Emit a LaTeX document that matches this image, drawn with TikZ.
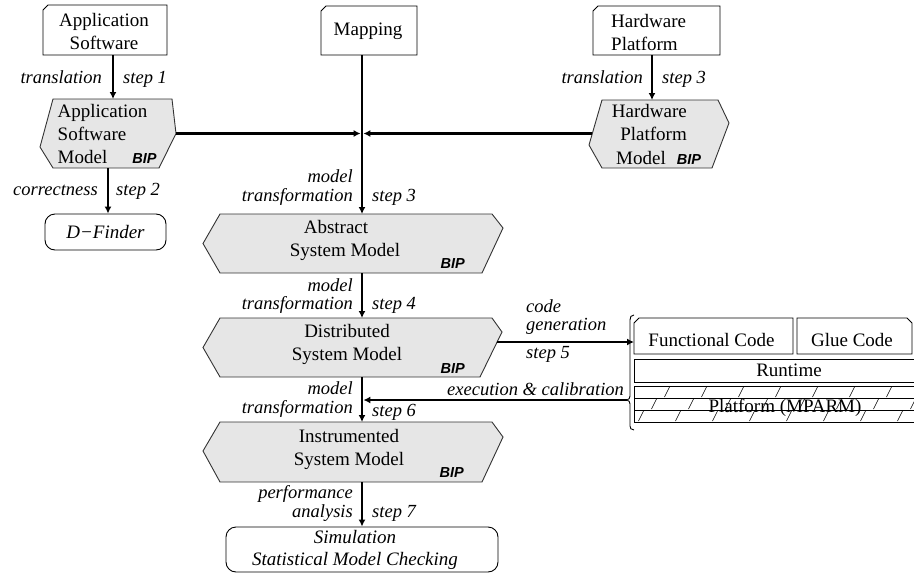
\documentclass[tikz,border=0pt]{standalone}
\usepackage{fontspec}
\setmainfont{Liberation Serif}
\newfontfamily\sansf{Liberation Sans}
\usetikzlibrary{arrows.meta,calc}
\definecolor{hexgray}{RGB}{230,230,230}
\newcommand{\bipmark}{{\fontsize{14.5}{16}\selectfont\sansf\bfseries\itshape BIP}}
\tikzset{
  txt/.style={font=\fontsize{19}{23}\selectfont, inner sep=0pt},
  lab/.style={font=\fontsize{18.5}{22}\selectfont\itshape, inner sep=0pt},
  bipst/.style={font=\fontsize{14.5}{16}\selectfont\sansf\bfseries\itshape, inner sep=0pt},
  area/.style={rectangle, inner sep=0pt, outer sep=0pt, draw=none},
  hexfill/.style={fill=hexgray, draw=black!80, line width=0.9pt, line join=miter},
  boxline/.style={draw=black, line width=0.9pt},
  roundbox/.style={rectangle, draw=black, line width=0.9pt, rounded corners=10pt, inner sep=0pt},
  plainbox/.style={rectangle, draw=black, line width=0.9pt, inner sep=0pt},
  arr/.style={line width=2.8pt, -{Latex[length=7pt,width=7pt]}},
  hatch/.style={line width=0.6pt},
}
\begin{document}
\begin{tikzpicture}[x=1pt,y=-1pt]
\useasboundingbox (0,0) rectangle (914,573);
% column coordinates
\coordinate (c1) at (113,0);
\coordinate (c2) at (108,0);
\coordinate (c3) at (652,0);
\coordinate (spine) at (362,0);
\coordinate (spineL) at (360.6,0);
\coordinate (spineR) at (363.4,0);

% ---------- top boxes ----------
\node[area, minimum width=124pt, minimum height=50pt] (appsw) at (105,30) {};
\draw[boxline] ([xshift=5pt]appsw.north west) -- (appsw.north east) -- (appsw.south east) -- (appsw.south west) -- ([yshift=-5pt]appsw.north west) -- cycle;
\node[txt, align=center] (appswT) at (104,31.5) {Application\\Software};

\node[area, minimum width=96pt, minimum height=49pt] (map) at (369,30.5) {};
\draw[boxline] ([xshift=5pt]map.north west) -- (map.north east) -- (map.south east) -- (map.south west) -- ([yshift=-5pt]map.north west) -- cycle;
\node[txt] (mapT) at (368,31) {Mapping};

\node[area, minimum width=127pt, minimum height=49pt] (hwp) at (656.5,30.5) {};
\draw[boxline] ([xshift=5pt]hwp.north west) -- (hwp.north east) -- (hwp.south east) -- (hwp.south west) -- ([yshift=-5pt]hwp.north west) -- cycle;
\node[txt, align=left, anchor=west] (hwpT) at (611,32) {Hardware\\Platform};

% ---------- hexagonal models ----------
\draw[hexfill] (53,99) -- (172,99) -- (176,133.5) -- (159,168) -- (53,168) -- (40,147) -- cycle;
\node[area, minimum width=136pt, minimum height=69pt] (asm) at (108,133.5) {};
\node[txt, align=left, anchor=west] (asmT) at (57.5,134) {Application\\Software\\Model\hspace{25pt}\bipmark};

\draw[hexfill] (602,100) -- (718,100) -- (729,123) -- (712,168) -- (602,168) -- (589,145) -- cycle;
\node[area, minimum width=140pt, minimum height=68pt] (hwm) at (659,134) {};
\node[txt, align=right, anchor=east] (hwmT) at (687,122.5) {Hardware\\Platform};
\node[txt, anchor=west] (hwmT2) at (616,158) {Model\hspace{11pt}\bipmark};
\coordinate (hwmL) at (592,133.5);

\draw[hexfill] (220,214) -- (492,214) -- (503,228) -- (482,273) -- (220,273) -- (203,243.5) -- cycle;
\node[area, minimum width=300pt, minimum height=59pt] (abs) at (353,243.5) {};
\node[txt, align=center] (absT) at (345,240.5) {Abstract\kern18pt\\System Model};
\node[bipst, anchor=base east] (absB) at (465,268) {BIP};

\draw[hexfill] (220,318) -- (492,318) -- (502,332) -- (480,377) -- (220,377) -- (203,347.5) -- cycle;
\node[area, minimum width=299pt, minimum height=59pt] (dsm) at (352.5,347.5) {};
\node[txt, align=center] (dsmT) at (347,344.5) {Distributed\\System Model};
\node[bipst, anchor=base east] (dsmB) at (465,373) {BIP};
\coordinate (dsmR) at (497,342);

\draw[hexfill] (220,422) -- (492,422) -- (503,437) -- (482,482) -- (220,482) -- (203,451) -- cycle;
\node[area, minimum width=300pt, minimum height=60pt] (ism) at (353,452) {};
\node[txt, align=center] (ismT) at (349,449.5) {Instrumented\\System Model};
\node[bipst, anchor=base east] (ismB) at (464,477) {BIP};

% ---------- result boxes ----------
\node[roundbox, minimum width=121pt, minimum height=36pt, font=\fontsize{19}{23}\selectfont\itshape] (dfind) at (105.5,232) {D\char"2212 Finder};

\node[roundbox, minimum width=272pt, minimum height=45pt] (sim) at (362,549.5) {};
\node[lab, font=\fontsize{19}{22}\selectfont\itshape, align=center] (simT) at (355,549.5) {Simulation\\Statistical Model Checking};

% ---------- code / platform stack ----------
\node[area, minimum width=159pt, minimum height=36pt] (fc) at (713.5,336) {};
\draw[boxline] ([xshift=5pt]fc.north west) -- (fc.north east) -- (fc.south east) -- (fc.south west) -- ([yshift=-5pt]fc.north west) -- cycle;
\node[txt] (fcT) at (711.5,340) {Functional Code};

\node[area, minimum width=115pt, minimum height=36pt] (gc) at (854.5,336) {};
\draw[boxline] (gc.north west) -- ([xshift=-5pt]gc.north east) -- ([yshift=-5pt]gc.north east) -- (gc.south east) -- (gc.south west) -- cycle;
\node[txt] (gcT) at (852,340) {Glue Code};

\node[plainbox, minimum width=310pt, minimum height=23pt, font=\fontsize{19}{23}\selectfont] (rt) at (789,370.5) {Runtime};

\node[plainbox, minimum width=302pt, minimum height=36pt] (pf) at (785,404) {};
\begin{scope}
  \clip (pf.north west) rectangle (pf.south east);
  \draw[hatch] (634,398) -- (940,398);
  \draw[hatch] (634,410) -- (940,410);
  \foreach \r in {0,1,2}{
    \foreach \k in {-1,...,8}{
      \pgfmathsetmacro{\xc}{667-13*\r+37*\k}
      \pgfmathsetmacro{\yt}{386+12*\r}
      \draw[hatch] (\xc-2.5,\yt+11) -- (\xc+2.5,\yt+1);
    }
  }
\end{scope}
\node[txt] (pfT) at (785,408) {Platform (MPARM)};

% brace
\draw[line width=0.9pt] (634,315) .. controls (631,315) and (630,317) .. (630,320) -- (630,396) .. controls (630,398) and (629,399.5) .. (627,400) .. controls (629,400.5) and (630,402) .. (630,404) -- (630,426) .. controls (630,428) and (631,430) .. (634,430);
\coordinate (brtip) at (627,400);

% ---------- connectors ----------
\draw[arr] (appsw.south -| c1) -- (asm.north -| c1);
\draw[arr] (asm.south -| c2) -- (dfind.north -| c2);
\draw[arr] (hwp.south -| c3) -- (hwm.north -| c3);
\draw[arr] (asm.east) -- (asm.east -| spineL);
\draw[arr] (hwmL) -- (hwmL -| spineR);
\draw[arr] (map.south -| spine) -- (abs.north -| spine);
\draw[arr] (abs.south -| spine) -- (dsm.north -| spine);
\draw[arr] (dsm.south -| spine) -- (ism.north -| spine);
\draw[arr] (ism.south -| spine) -- (sim.north -| spine);
\draw[arr] (dsmR) -- (dsmR -| fc.west);
\draw[arr] (brtip) -- (brtip -| spineR);

% ---------- labels ----------
\node[lab, anchor=base east] (l1a) at (102,83) {translation};
\node[lab, anchor=base west] (l1b) at (123,83) {step 1};
\node[lab, anchor=base east] (l2a) at (98,195) {correctness};
\node[lab, anchor=base west] (l2b) at (116,195) {step 2};
\node[lab, anchor=base east] (l3a) at (643,83) {translation};
\node[lab, anchor=base west] (l3b) at (662,83) {step 3};
\node[lab, anchor=base east] (l4a) at (353,182) {model};
\node[lab, anchor=base east] (l4b) at (353,201) {transformation};
\node[lab, anchor=base west] (l4c) at (372,201) {step 3};
\node[lab, anchor=base east] (l5a) at (353,291) {model};
\node[lab, anchor=base east] (l5b) at (353,309) {transformation};
\node[lab, anchor=base west] (l5c) at (372,309) {step 4};
\node[lab, anchor=base west] (l6a) at (526,312) {code};
\node[lab, anchor=base west] (l6b) at (526,330) {generation};
\node[lab, anchor=base west] (l6c) at (526,358) {step 5};
\node[lab, anchor=base west] (l7a) at (447,395) {execution \& calibration};
\node[lab, anchor=base east] (l8a) at (353,394) {model};
\node[lab, anchor=base east] (l8b) at (353,413) {transformation};
\node[lab, anchor=base west] (l8c) at (372,416) {step 6};
\node[lab, anchor=base east] (l9a) at (353,498) {performance};
\node[lab, anchor=base east] (l9b) at (353,517) {analysis};
\node[lab, anchor=base west] (l9c) at (372,517) {step 7};
\end{tikzpicture}
\end{document}
